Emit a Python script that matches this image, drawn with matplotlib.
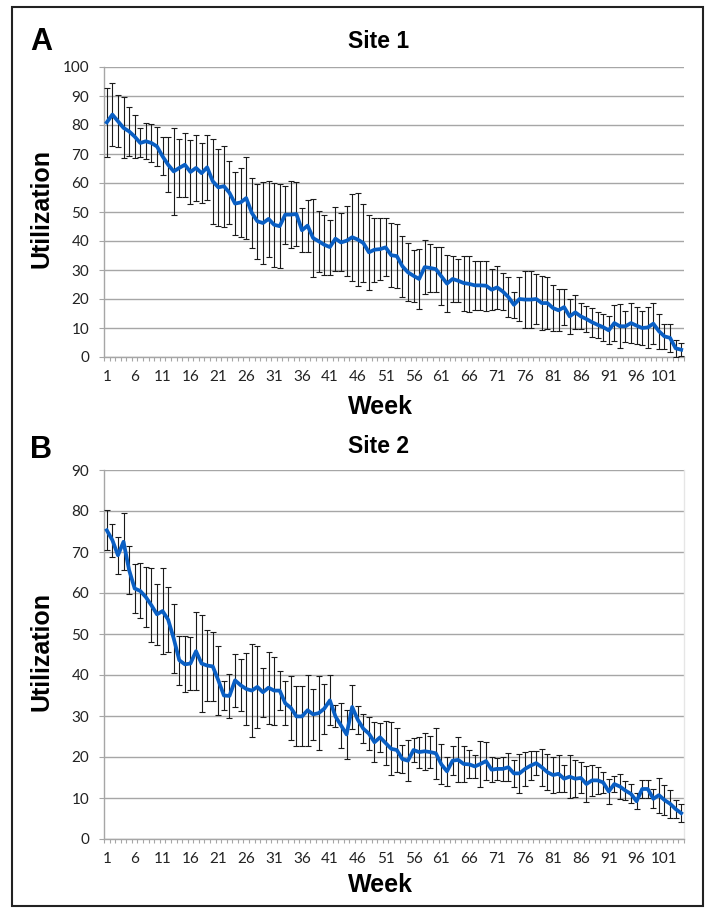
import numpy as np
import matplotlib
matplotlib.use("Agg")
import matplotlib.pyplot as plt
from matplotlib.patches import Rectangle

weeks = list(range(1, 105))
xtick_labels = [str(w) for w in range(1, 102, 5)]

site1_mean = [80.9, 83.6, 81.3, 79.0, 77.8, 76.0, 73.8, 74.4, 73.8, 72.6,
              69.2, 66.3, 64.0, 65.2, 66.3, 63.8, 65.2, 63.4, 65.4, 60.6,
              58.5, 58.9, 56.6, 52.9, 53.3, 54.8, 49.7, 46.8, 46.2, 47.6,
              45.6, 45.1, 49.1, 49.1, 49.3, 43.7, 45.3, 41.0, 39.9, 38.7,
              37.9, 40.8, 39.5, 40.1, 41.3, 40.5, 39.3, 36.1, 37.0, 37.2,
              37.8, 35.1, 34.8, 31.3, 29.2, 28.0, 26.9, 31.0, 30.7, 30.3,
              27.8, 25.3, 26.9, 26.3, 25.5, 25.2, 24.7, 24.7, 24.6, 23.2,
              24.0, 22.6, 20.7, 18.0, 20.0, 19.8, 19.8, 20.0, 18.6, 18.6,
              16.9, 16.1, 17.2, 14.0, 15.4, 14.0, 13.1, 12.0, 11.1, 10.3,
              9.2, 11.7, 10.6, 10.6, 11.7, 10.8, 10.0, 10.2, 11.5, 8.9,
              7.1, 6.6, 3.0, 2.5]
site1_err = [12.0, 11.0, 9.0, 10.5, 8.5, 7.5, 5.0, 6.2, 6.4, 6.6,
             6.5, 9.5, 15.0, 10.0, 11.0, 11.0, 11.3, 10.3, 11.3, 14.6,
             13.2, 13.9, 10.9, 11.0, 12.0, 14.0, 12.0, 13.0, 14.0, 13.0,
             14.5, 14.5, 10.0, 11.5, 11.0, 7.6, 9.0, 13.4, 10.5, 10.3,
             9.5, 11.0, 10.0, 12.0, 15.0, 16.0, 13.6, 13.0, 11.0, 10.6,
             10.0, 11.0, 11.0, 10.5, 10.0, 9.0, 10.3, 9.4, 8.2, 7.8,
             10.0, 9.8, 8.0, 7.5, 9.5, 9.6, 8.4, 8.4, 8.6, 7.0,
             7.5, 6.5, 7.0, 4.5, 7.5, 9.8, 9.8, 8.7, 9.3, 9.0,
             7.8, 7.3, 6.3, 6.0, 5.9, 4.5, 4.6, 5.0, 4.5, 4.7,
             4.8, 6.1, 7.6, 5.4, 6.8, 6.4, 6.0, 7.0, 7.0, 6.0,
             4.2, 4.9, 3.0, 2.3]

site2_mean = [75.3, 72.9, 69.2, 72.5, 65.6, 61.1, 60.5, 59.0, 57.0, 54.8,
              55.6, 53.5, 48.9, 43.6, 42.6, 42.8, 45.8, 42.8, 42.3, 42.1,
              38.7, 35.0, 34.9, 38.7, 37.5, 36.6, 36.2, 37.1, 35.8, 36.9,
              36.2, 36.2, 33.1, 32.0, 29.9, 29.9, 31.4, 30.4, 30.7, 31.8,
              33.8, 29.9, 27.7, 25.5, 32.2, 29.1, 26.9, 25.7, 23.6, 24.8,
              23.4, 22.0, 21.7, 19.5, 19.1, 21.7, 21.2, 21.4, 21.2, 20.9,
              18.2, 16.5, 19.1, 19.3, 18.3, 18.2, 17.7, 18.3, 19.0, 16.9,
              17.1, 17.1, 17.5, 16.0, 16.0, 17.1, 17.9, 18.5, 17.5, 16.3,
              15.6, 15.9, 14.7, 15.2, 14.7, 14.9, 13.4, 14.3, 14.3, 13.8,
              11.6, 13.4, 12.8, 11.8, 11.0, 9.2, 12.2, 12.2, 9.8, 10.7,
              9.5, 8.6, 7.3, 6.3]
site2_err = [4.9, 4.0, 4.5, 7.0, 5.8, 6.0, 6.7, 7.3, 9.0, 7.5,
             10.4, 8.0, 8.5, 6.0, 6.8, 6.5, 9.5, 11.8, 8.7, 8.5,
             8.4, 3.5, 5.4, 6.5, 6.4, 8.7, 11.4, 10.0, 6.0, 8.8,
             8.3, 4.7, 5.4, 7.8, 7.3, 7.3, 8.6, 6.2, 9.0, 6.1,
             6.1, 2.7, 5.5, 6.0, 5.4, 3.4, 3.6, 4.0, 4.9, 3.6,
             5.4, 6.5, 5.3, 3.5, 5.0, 3.0, 3.8, 4.5, 4.0, 6.2,
             4.9, 3.6, 3.5, 5.5, 4.3, 3.4, 2.7, 5.5, 4.7, 3.0,
             2.6, 2.9, 3.4, 3.2, 4.7, 4.2, 3.6, 2.9, 4.5, 4.4,
             4.5, 4.5, 3.3, 5.3, 4.5, 3.8, 4.3, 3.7, 3.3, 2.5,
             3.0, 2.0, 3.0, 2.3, 2.3, 2.0, 2.2, 2.2, 2.3, 4.3,
             3.6, 3.4, 2.2, 2.2]

panels = [
    dict(letter="A", title="Site 1", mean=site1_mean, err=site1_err,
         ymax=100, rect=[104, 67, 684, 357], letter_y=42, title_y=42, week_y=407,
         right_edge=False),
    dict(letter="B", title="Site 2", mean=site2_mean, err=site2_err,
         ymax=90, rect=[104, 470, 684, 839], letter_y=450, title_y=446, week_y=885,
         right_edge=True),
]

W, H = 709, 910
fig = plt.figure(figsize=(W / 100, H / 100), dpi=100)
fig.patch.set_facecolor("white")

grid_c = "#a6a6a6"
line_c = "#0a5fc4"
tick_font = "Lato"
bold_font = "Liberation Sans"

for p in panels:
    x0, y0, x1, y1 = p["rect"]
    ax = fig.add_axes([x0 / W, 1 - y1 / H, (x1 - x0) / W, (y1 - y0) / H])
    ax.errorbar(weeks, p["mean"], yerr=p["err"], fmt="none", ecolor="#1a1a1a",
                elinewidth=0.8, capsize=2.4, capthick=0.8, zorder=3)
    ax.plot(weeks, p["mean"], color=line_c, lw=2.7, zorder=4,
            solid_joinstyle="round")
    ax.set_xlim(0.5, 104.5)
    ax.set_ylim(0, p["ymax"])
    ax.set_yticks(range(0, p["ymax"] + 1, 10))
    ax.yaxis.grid(True, color=grid_c, lw=1.0, zorder=0)
    ax.set_axisbelow(True)
    ax.spines["top"].set_visible(False)
    if p["right_edge"]:
        ax.spines["right"].set_color("#e6e6e6")
        ax.spines["right"].set_linewidth(1.0)
    else:
        ax.spines["right"].set_visible(False)
    for s in ["left", "bottom"]:
        ax.spines[s].set_color(grid_c)
        ax.spines[s].set_linewidth(1.0)
    ax.set_xticks(np.arange(0.5, 105, 1.0))
    ax.set_xticklabels([])
    ax.set_xticks(range(1, 102, 5), minor=True)
    ax.set_xticklabels(xtick_labels, minor=True, fontfamily=tick_font,
                       fontsize=11, color="#222222")
    ax.tick_params(axis="x", which="major", length=3, width=0.8, color=grid_c)
    ax.tick_params(axis="x", which="minor", length=0, pad=9.5)
    ax.tick_params(axis="y", length=3.6, width=0.8, color=grid_c, pad=7,
                   labelsize=11, labelcolor="#222222")
    for lab in ax.get_yticklabels():
        lab.set_fontfamily(tick_font)

    fig.text(41 / W, 1 - p["letter_y"] / H, p["letter"], fontfamily=bold_font,
             fontweight="bold", fontsize=22, ha="center", va="center")
    fig.text(379 / W, 1 - p["title_y"] / H, p["title"], fontfamily=bold_font,
             fontweight="bold", fontsize=16.5, ha="center", va="center")
    fig.text(380 / W, 1 - p["week_y"] / H, "Week", fontfamily=bold_font,
             fontweight="bold", fontsize=18, ha="center", va="center")
    fig.text(42 / W, 1 - ((y0 + y1) / 2 - 3) / H, "Utilization", fontfamily=bold_font,
             fontweight="bold", fontsize=18, ha="center", va="center",
             rotation=90)

fig.patches.append(Rectangle((12 / W, 1 - 906 / H), (703 - 12) / W, (906 - 7) / H,
                             transform=fig.transFigure, fill=False,
                             edgecolor="#222222", lw=1.5))

fig.savefig("out.png", dpi=100, facecolor="white")
